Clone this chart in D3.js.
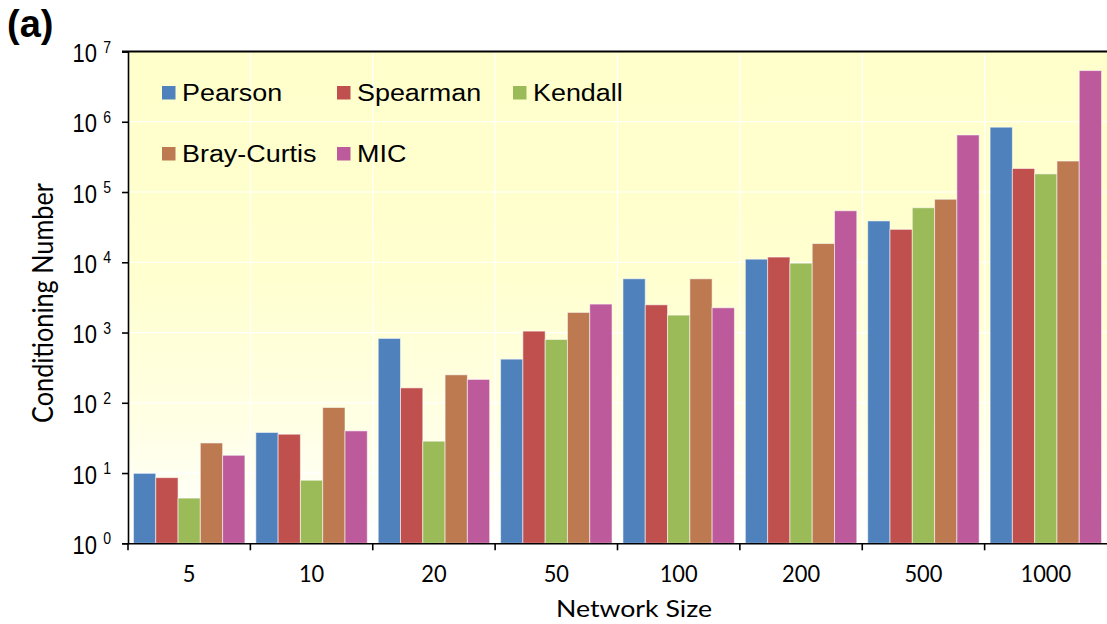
<!DOCTYPE html>
<html>
<head>
<meta charset="utf-8">
<script src="https://cdn.jsdelivr.net/npm/d3@7/dist/d3.min.js"></script>
<style>
  html, body { margin: 0; padding: 0; background: #fff; }
  svg { display: block; }
</style>
</head>
<body>
<svg id="chart" width="1107" height="624"></svg>
<script>
// Conditioning number of the inferred network, by network size and similarity measure
const categories = ["5", "10", "20", "50", "100", "200", "500", "1000"];
const seriesNames = ["Pearson", "Spearman", "Kendall", "Bray-Curtis", "MIC"];
const pearson    = [9.9, 37.8, 824, 418, 5820, 11070, 38750, 837000];
const spearman   = [8.6, 35.7, 163, 1047, 2480, 11860, 29400, 216000];
const kendall    = [4.4, 7.9, 28.4, 796, 1770, 9710, 59700, 181000];
const brayCurtis = [26.8, 85.7, 250, 1933, 5820, 18470, 78900, 276000];
const mic        = [17.9, 39.8, 215, 2540, 2250, 54100, 648000, 5350000];
const seriesValues = [pearson, spearman, kendall, brayCurtis, mic];
const seriesColors = ["#4f81bd", "#c0504d", "#9bbb59", "#bd7a50", "#bc5a9c"];
const yExponents = [0, 1, 2, 3, 4, 5, 6, 7];

const svg = d3.select("#chart");
const plot = { left: 128, right: 1107, top: 51.5, bottom: 543.3 };

const x0 = d3.scaleBand().domain(categories).range([plot.left, plot.right]).padding(0);
const x1 = d3.scaleBand().domain(seriesNames).range([0, x0.bandwidth()])
  .paddingInner(0).paddingOuter(0.245);
const y = d3.scaleLog().domain([1, 1e7]).range([plot.bottom, plot.top]);

// Background gradient: pale yellow at the top fading to white near the axis
const defs = svg.append("defs");
const grad = defs.append("linearGradient").attr("id", "bg")
  .attr("x1", 0).attr("y1", 0).attr("x2", 0).attr("y2", 1);
grad.append("stop").attr("offset", "0%").attr("stop-color", "#ffffcc");
grad.append("stop").attr("offset", "45%").attr("stop-color", "#ffffcf");
grad.append("stop").attr("offset", "75%").attr("stop-color", "#ffffe4");
grad.append("stop").attr("offset", "100%").attr("stop-color", "#ffffff");

svg.append("rect")
  .attr("x", plot.left).attr("y", plot.top)
  .attr("width", plot.right - plot.left).attr("height", plot.bottom - plot.top)
  .attr("fill", "url(#bg)");

// White gridlines
const grid = svg.append("g");
grid.selectAll("line.h").data(yExponents.slice(1, -1)).join("line")
  .attr("x1", plot.left).attr("x2", plot.right)
  .attr("y1", d => y(Math.pow(10, d))).attr("y2", d => y(Math.pow(10, d)))
  .attr("stroke", "#ffffff").attr("stroke-width", 1.2);
grid.selectAll("line.v").data(categories.slice(1)).join("line")
  .attr("x1", d => x0(d)).attr("x2", d => x0(d))
  .attr("y1", plot.top).attr("y2", plot.bottom)
  .attr("stroke", "#ffffff").attr("stroke-width", 1.2);

// Bars
const groups = svg.append("g").selectAll("g").data(categories).join("g")
  .attr("transform", d => `translate(${x0(d)},0)`);
groups.selectAll("rect")
  .data((c, i) => seriesNames.map((s, k) => ({ s, k, v: seriesValues[k][i] })))
  .join("rect")
  .attr("x", d => x1(d.s))
  .attr("width", x1.bandwidth())
  .attr("y", d => y(d.v))
  .attr("height", d => plot.bottom - y(d.v))
  .attr("fill", d => seriesColors[d.k])
  .attr("stroke", "rgba(255,255,255,0.55)")
  .attr("stroke-width", 1);

// Y axis with 10^n labels
const yAxis = svg.append("g").attr("transform", `translate(${plot.left},0)`)
  .call(d3.axisLeft(y).tickValues(yExponents.map(e => Math.pow(10, e)))
    .tickSize(6).tickFormat(""));
yAxis.select(".domain").attr("stroke", "#000").attr("stroke-width", 1.6);
yAxis.selectAll(".tick line").attr("stroke", "#000").attr("stroke-width", 1.6);

const yLabels = svg.append("g");
yExponents.forEach(e => {
  const t = yLabels.append("text")
    .attr("transform", `translate(111,${y(Math.pow(10, e)) + 10.5}) scale(0.88,1)`)
    .attr("text-anchor", "end")
    .attr("font-family", "'Liberation Sans', Arial, sans-serif")
    .attr("font-size", 25).attr("fill", "#000");
  t.append("tspan").text("10");
  t.append("tspan").attr("font-size", 16).attr("dx", 7).attr("dy", -9.5).text(String(e));
});

// X axis
const xAxis = svg.append("g").attr("transform", `translate(0,${plot.bottom})`)
  .call(d3.axisBottom(x0).tickSize(0).tickFormat(""));
xAxis.select(".domain").attr("stroke", "#000").attr("stroke-width", 1.6);
svg.append("g").selectAll("line").data(categories).join("line")
  .attr("x1", d => x0(d)).attr("x2", d => x0(d))
  .attr("y1", plot.bottom).attr("y2", plot.bottom + 7)
  .attr("stroke", "#000").attr("stroke-width", 1.6);

svg.append("g").selectAll("text").data(categories).join("text")
  .attr("transform", d => `translate(${x0(d) + x0.bandwidth() / 2},582) scale(0.95,1)`)
  .attr("text-anchor", "middle")
  .attr("font-family", "Lato, 'Open Sans', sans-serif")
  .attr("font-size", 23).attr("fill", "#000")
  .text(d => d);

// Top frame line
svg.append("line")
  .attr("x1", plot.left - 6).attr("x2", plot.right)
  .attr("y1", plot.top).attr("y2", plot.top)
  .attr("stroke", "#000").attr("stroke-width", 2);

// Axis titles
svg.append("text")
  .attr("transform", "translate(634,617) scale(1.16,1)")
  .attr("text-anchor", "middle")
  .attr("font-family", "Lato, 'Open Sans', sans-serif")
  .attr("font-size", 23).attr("fill", "#000")
  .text("Network Size");

svg.append("text")
  .attr("transform", "translate(53,303) scale(1.12,1) rotate(-90)")
  .attr("text-anchor", "middle")
  .attr("font-family", "Lato, 'Open Sans', sans-serif")
  .attr("font-size", 25.3).attr("fill", "#000")
  .text("Conditioning Number");

// Panel letter
svg.append("text")
  .attr("x", 7).attr("y", 37)
  .attr("font-family", "'Liberation Sans', Arial, sans-serif")
  .attr("font-weight", "bold").attr("font-size", 38).attr("fill", "#000")
  .text("(a)");

// Legend: three columns, two rows
const legendCols = [162, 337, 513];
const legendRows = [92.5, 153.5];
const legend = svg.append("g");
seriesNames.forEach((name, k) => {
  const cx = legendCols[k % 3];
  const cy = legendRows[Math.floor(k / 3)];
  legend.append("rect")
    .attr("x", cx).attr("y", cy - 6.5).attr("width", 13.5).attr("height", 13.5)
    .attr("fill", seriesColors[k]);
  legend.append("text")
    .attr("transform", `translate(${cx + 20},${cy + 8}) scale(1.155,1)`)
    .attr("font-family", "'Liberation Sans', Arial, sans-serif")
    .attr("font-size", 23.3).attr("fill", "#000")
    .text(name);
});
</script>
</body>
</html>
